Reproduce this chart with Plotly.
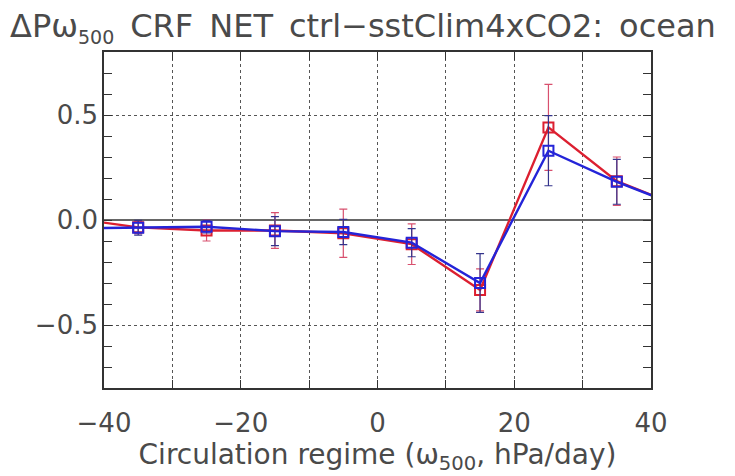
import plotly.graph_objects as go

# Circulation regime bins (omega_500, hPa/day); the outer bins lie just outside the axis range
omega_bins = [-45, -35, -25, -15, -5, 5, 15, 25, 35, 45]

# Change in omega-weighted net CRF per regime, two estimates
crf_red = [0.010, -0.035, -0.050, -0.050, -0.063, -0.115, -0.333, 0.441, 0.185, 0.055]
crf_red_err = [None, 0.030, 0.050, 0.085, 0.115, 0.097, 0.100, 0.205, 0.115, None]

crf_blue = [-0.040, -0.037, -0.032, -0.053, -0.057, -0.108, -0.300, 0.330, 0.182, 0.055]
crf_blue_err = [None, 0.035, 0.030, 0.069, 0.060, 0.067, 0.140, 0.167, 0.107, None]

# Axis ranges and tick spacing (labelled / tick marks)
x_range, x_label_step, x_tick_step = [-40, 40], 20, 10
y_range, y_label_step, y_tick_step = [-0.8, 0.8], 0.5, 0.1

FONT = "DejaVu Sans"
TEXT_GREY = "#4a4a4a"
RED = "#dc1f30"
BLUE = "#2424d8"
SP = "\u2002"

fig = go.Figure()

# red series on the base axes (frame + tick marks)
fig.add_trace(go.Scatter(
    x=omega_bins, y=crf_red, mode="lines+markers", xaxis="x", yaxis="y",
    line=dict(color=RED, width=2.4),
    marker=dict(symbol="square-open", size=10, color=RED, line=dict(width=2, color=RED)),
    error_y=dict(type="data", array=crf_red_err, visible=True,
                 color="#d8506e", thickness=1.2, width=4),
    showlegend=False,
))

# blue series on the overlaid, labelled axes (same ranges), drawn on top
fig.add_trace(go.Scatter(
    x=omega_bins, y=crf_blue, mode="lines+markers", xaxis="x2", yaxis="y2",
    line=dict(color=BLUE, width=2.4),
    marker=dict(symbol="square-open", size=10, color=BLUE, line=dict(width=2, color=BLUE)),
    error_y=dict(type="data", array=crf_blue_err, visible=True,
                 color="#34348c", thickness=1.2, width=4),
    showlegend=False,
))

grid_style = dict(showgrid=True, gridcolor="#555", gridwidth=1, griddash="3px,3px")
tick_style = dict(ticks="inside", ticklen=8, tickwidth=1.2, tickcolor="#333")
label_font = dict(family=FONT, size=26, color=TEXT_GREY)

fig.update_layout(
    width=735, height=476,
    margin=dict(l=104, r=84, t=52, b=88),
    paper_bgcolor="white", plot_bgcolor="white",
    font=dict(family=FONT, color=TEXT_GREY),
    title=dict(
        text=(f"\u0394P\u03c9<sub><span style='font-size:19px'>500</span></sub>"
              f"{SP}CRF{SP}NET{SP}ctrl\u2212sstClim4xCO2:{SP}ocean"),
        x=10 / 735, xanchor="left", xref="container",
        y=1 - 26 / 476, yanchor="middle", yref="container",
        font=dict(family=FONT, size=32, color=TEXT_GREY),
    ),
    # frame, tick marks and vertical dashed grid
    xaxis=dict(
        range=x_range, tickmode="linear", tick0=x_range[0], dtick=x_tick_step,
        **tick_style, showticklabels=False,
        showline=True, linecolor="#333", linewidth=1.5, mirror="ticks",
        **grid_style, zeroline=False,
    ),
    yaxis=dict(
        range=y_range, tickmode="linear", tick0=0, dtick=y_tick_step,
        **tick_style, showticklabels=False,
        showline=True, linecolor="#333", linewidth=1.5, mirror="ticks",
        showgrid=False, zeroline=False,
    ),
    # labelled axes, horizontal dashed grid and zero line
    xaxis2=dict(
        overlaying="x", anchor="y2", side="bottom",
        range=x_range, tickmode="linear", tick0=x_range[0], dtick=x_label_step,
        tickformat="d", ticks="", showline=False, showgrid=False, zeroline=False,
        tickfont=label_font, ticklabelstandoff=17,
        title=dict(text="Circulation regime (\u03c9<sub>500</sub>, hPa/day)",
                   font=dict(family=FONT, size=28, color=TEXT_GREY), standoff=3),
    ),
    yaxis2=dict(
        overlaying="y", anchor="x2", side="left",
        range=y_range, tickmode="linear", tick0=0, dtick=y_label_step,
        tickformat=".1f", ticks="", showline=False, **grid_style,
        zeroline=True, zerolinecolor="#666", zerolinewidth=1.8,
        tickfont=label_font, ticklabelstandoff=5,
    ),
)

fig.write_html("out.html")
